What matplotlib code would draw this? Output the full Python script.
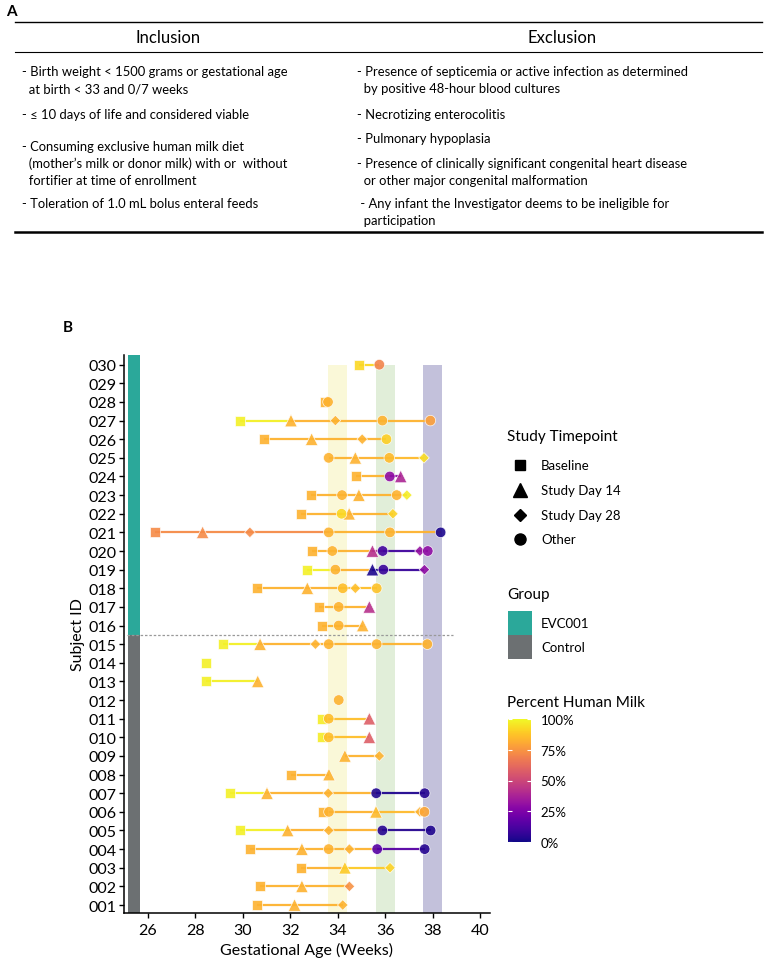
import numpy as np
import matplotlib
matplotlib.use("Agg")
import matplotlib.pyplot as plt
from matplotlib import colors
from matplotlib.cm import ScalarMappable
from matplotlib.patches import Rectangle

plt.rcParams["font.family"] = ["Lato", "DejaVu Sans"]

# ---- panel A: inclusion / exclusion criteria
inclusion_items = [
    "- Birth weight < 1500 grams or gestational age\n  at birth < 33 and 0/7 weeks",
    "- \u2264 10 days of life and considered viable",
    "- Consuming exclusive human milk diet\n  (mother\u2019s milk or donor milk) with or  without\n  fortifier at time of enrollment",
    "- Toleration of 1.0 mL bolus enteral feeds",
]
exclusion_items = [
    "- Presence of septicemia or active infection as determined\n  by positive 48-hour blood cultures",
    "- Necrotizing enterocolitis",
    "- Pulmonary hypoplasia",
    "- Presence of clinically significant congenital heart disease\n  or other major congenital malformation",
    " - Any infant the Investigator deems to be ineligible for\n  participation",
]

# ---- panel B: one entry per sample (B=baseline, T=day 14, D=day 28, O=other)
subject = [
    1, 1, 1,
    2, 2, 2,
    3, 3, 3,
    4, 4, 4, 4, 4, 4,
    5, 5, 5, 5, 5,
    6, 6, 6, 6, 6,
    7, 7, 7, 7, 7,
    8, 8,
    9, 9,
    10, 10, 10,
    11, 11, 11,
    12,
    13, 13,
    14,
    15, 15, 15, 15, 15, 15,
    16, 16, 16,
    17, 17, 17,
    18, 18, 18, 18, 18,
    19, 19, 19, 19, 19,
    20, 20, 20, 20, 20, 20,
    21, 21, 21, 21, 21, 21,
    22, 22, 22, 22,
    23, 23, 23, 23, 23,
    24, 24, 24,
    25, 25, 25, 25,
    26, 26, 26, 26,
    27, 27, 27, 27, 27,
    28, 28,
    30, 30,
]
age_weeks = [
    30.60, 32.17, 34.20,
    30.73, 32.48, 34.48,
    32.46, 34.29, 36.19,
    30.31, 32.48, 33.61, 34.48, 35.65, 37.65,
    29.87, 31.88, 33.61, 35.87, 37.90,
    33.36, 33.62, 35.60, 37.45, 37.64,
    29.45, 31.01, 33.59, 35.61, 37.65,
    32.02, 33.62,
    34.29, 35.74,
    33.34, 33.61, 35.32,
    33.34, 33.61, 35.32,
    34.03,
    28.44, 30.62,
    28.44,
    29.14, 30.72, 33.05, 33.61, 35.63, 37.76,
    33.34, 34.03, 35.04,
    33.19, 34.03, 35.32,
    30.59, 32.71, 34.20, 34.73, 35.63,
    32.71, 33.89, 35.45, 35.91, 37.64,
    32.89, 33.76, 35.45, 35.88, 37.45, 37.78,
    26.31, 28.30, 30.29, 33.61, 36.19, 38.32,
    32.44, 34.15, 34.47, 36.31,
    32.88, 34.17, 34.88, 36.47, 36.90,
    34.75, 36.18, 36.64,
    33.61, 34.73, 36.16, 37.62,
    30.88, 32.89, 35.02, 36.04,
    29.87, 32.02, 33.89, 35.87, 37.89,
    33.45, 33.58,
    34.88, 35.74,
]
timepoint = [
    "B", "T", "D",
    "B", "T", "D",
    "B", "T", "D",
    "B", "T", "O", "D", "O", "O",
    "B", "T", "D", "O", "O",
    "B", "O", "T", "D", "O",
    "B", "T", "D", "O", "O",
    "B", "T",
    "T", "D",
    "B", "O", "T",
    "B", "O", "T",
    "O",
    "B", "T",
    "B",
    "B", "T", "D", "O", "O", "O",
    "B", "O", "T",
    "B", "O", "T",
    "B", "T", "O", "D", "O",
    "B", "O", "T", "O", "D",
    "B", "O", "T", "O", "D", "O",
    "B", "T", "D", "O", "O", "O",
    "B", "O", "T", "D",
    "B", "O", "T", "O", "D",
    "B", "O", "T",
    "O", "T", "O", "D",
    "B", "T", "D", "O",
    "B", "T", "D", "O", "O",
    "B", "O",
    "B", "O",
]
pct_milk = [
    83, 83, 83,
    83, 83, 74,
    83, 89, 91,
    83, 83, 83, 83, 15, 4,
    98, 83, 83, 4, 3,
    83, 83, 85, 83, 80,
    98, 83, 83, 3, 4,
    83, 83,
    83, 83,
    97, 86, 58,
    97, 86, 58,
    83,
    98, 83,
    98,
    98, 83, 83, 83, 83, 83,
    83, 83, 83,
    83, 83, 42,
    83, 83, 86, 86, 87,
    98, 83, 2, 8, 30,
    83, 83, 42, 10, 32, 30,
    72, 72, 72, 83, 83, 2,
    83, 92, 83, 91,
    83, 83, 83, 83, 97,
    83, 30, 38,
    83, 83, 85, 93,
    83, 83, 83, 90,
    98, 83, 83, 83, 78,
    83, 83,
    92, 70,
]

subject_ids = list(range(1, 31))
group_names = ["EVC001", "Control"]
group_colors = ["#2ba89a", "#6c7072"]
group_split = 15.5          # subjects 016-030 EVC001, 001-015 Control
windows = [(33.6, 34.4), (35.6, 36.4), (37.6, 38.4)]
window_colors = ["#faf8d8", "#e1eed9", "#c3c1db"]
timepoint_labels = ["Baseline", "Study Day 14", "Study Day 28", "Other"]
timepoint_codes = ["B", "T", "D", "O"]
markers = {"B": ("s", 7.2), "T": ("^", 9.0), "D": ("D", 5.4), "O": ("o", 7.6)}

W, H = 765, 962
fig = plt.figure(figsize=(W / 100, H / 100), dpi=100)

# ---------------- panel A
ta = fig.add_axes([0, 1 - 245 / H, 1, 245 / H])
ta.set_xlim(0, W)
ta.set_ylim(245, 0)
ta.axis("off")
ta.text(11, 12, "A", fontsize=11, fontweight="bold", ha="center", va="center")
ta.plot([15, 762], [23, 23], color="black", lw=1.0)
ta.plot([15, 762], [53, 53], color="black", lw=0.8)
ta.plot([15, 762], [233, 233], color="black", lw=1.8)
ta.text(168, 38, "Inclusion", fontsize=12, ha="center", va="center")
ta.text(562, 38, "Exclusion", fontsize=12, ha="center", va="center")

inc_y = [72, 115, 147, 204]
exc_y = [72, 115, 139, 164, 204]
for items, ys, x0 in [(inclusion_items, inc_y, 22), (exclusion_items, exc_y, 357)]:
    for txt, y0 in zip(items, ys):
        for k, line in enumerate(txt.split("\n")):
            ta.text(x0, y0 + 17 * k, line, fontsize=9.4, ha="left", va="center")

# ---------------- panel B
ax = fig.add_axes([124 / W, 1 - 914 / H, (490 - 124) / W, (914 - 356) / H])
ax.set_xlim(24.99, 40.4)
ax.set_ylim(0.571, 30.52)
ymin, ymax = ax.get_ylim()

for (x0, x1), c in zip(windows, window_colors):
    ax.add_patch(Rectangle((x0, ymin), x1 - x0, 30 - ymin, color=c, lw=0, zorder=0))

ax.add_patch(Rectangle((25.15, group_split), 0.52, ymax - group_split, color=group_colors[0], lw=0, zorder=1))
ax.add_patch(Rectangle((25.15, ymin), 0.52, group_split - ymin, color=group_colors[1], lw=0, zorder=1))
ax.plot([25.1, 38.85], [group_split, group_split], color="#999999", lw=0.9, ls=(0, (2, 1.5)), zorder=1)

cmap = plt.get_cmap("plasma")
norm = colors.Normalize(0, 100)
subject = np.array(subject)
age_weeks = np.array(age_weeks)
pct_milk = np.array(pct_milk)
timepoint = np.array(timepoint)

for sid in subject_ids:
    idx = np.where(subject == sid)[0]
    if len(idx) == 0:
        continue
    idx = idx[np.argsort(age_weeks[idx])]
    for a, b in zip(idx[:-1], idx[1:]):
        ax.plot([age_weeks[a], age_weeks[b]], [sid, sid], color=cmap(norm(pct_milk[a])),
                lw=1.6, alpha=0.95, zorder=2, solid_capstyle="butt")

for code in timepoint_codes:
    m, size = markers[code]
    sel = timepoint == code
    ax.scatter(age_weeks[sel], subject[sel], c=pct_milk[sel], cmap=cmap, norm=norm,
               marker=m, s=size ** 2, alpha=0.9, edgecolors="white", linewidths=0.5, zorder=3)

ax.set_yticks(subject_ids)
ax.set_yticklabels([f"{i:03d}" for i in subject_ids])
ax.set_xticks([26, 28, 30, 32, 34, 36, 38, 40])
ax.tick_params(axis="both", labelsize=11.5, length=3.5, width=1, color="black")
ax.tick_params(axis="y", pad=2)
for s in ["top", "right"]:
    ax.spines[s].set_visible(False)
for s in ["left", "bottom"]:
    ax.spines[s].set_linewidth(1.1)
ax.set_xlabel("Gestational Age (Weeks)", fontsize=11.5, labelpad=4)
ax.set_ylabel("Subject ID", fontsize=11.5, labelpad=2)
fig.text(68 / W, 1 - 328 / H, "B", fontsize=11, fontweight="bold", ha="center", va="center")

# ---------------- legends
lg = fig.add_axes([470 / W, 1 - 870 / H, 295 / W, 450 / H])
lg.set_xlim(470, 765)
lg.set_ylim(870, 420)
lg.axis("off")
lg.text(507, 437, "Study Timepoint", fontsize=11, va="center")
for k, (code, lab) in enumerate(zip(timepoint_codes, timepoint_labels)):
    y = 466 + 24.8 * k
    m, size = markers[code]
    lg.plot([520], [y], marker=m, color="black", markersize=size * 1.05, ls="none")
    lg.text(541, y, lab, fontsize=9.5, va="center")

lg.text(507, 595, "Group", fontsize=11, va="center")
for k, (g, c) in enumerate(zip(group_names, group_colors)):
    y0 = 612 + 24 * k
    lg.add_patch(Rectangle((508, y0), 24, 24, color=c, lw=0))
    lg.text(541, y0 + 12, g, fontsize=9.5, va="center")

lg.text(507, 703, "Percent Human Milk", fontsize=11, va="center")
cax = fig.add_axes([508 / W, 1 - 843 / H, 23 / W, 123 / H])
cb = fig.colorbar(ScalarMappable(norm=norm, cmap=cmap), cax=cax, ticks=[0, 25, 50, 75, 100])
cb.outline.set_visible(False)
cax.set_yticklabels(["0%", "25%", "50%", "75%", "100%"])
cax.yaxis.set_ticks_position("both")
cax.tick_params(axis="y", direction="in", length=3, width=0.8, color="white",
                labelsize=9.5, pad=7, labelleft=False, labelright=True)

fig.savefig("out.png", dpi=100)
